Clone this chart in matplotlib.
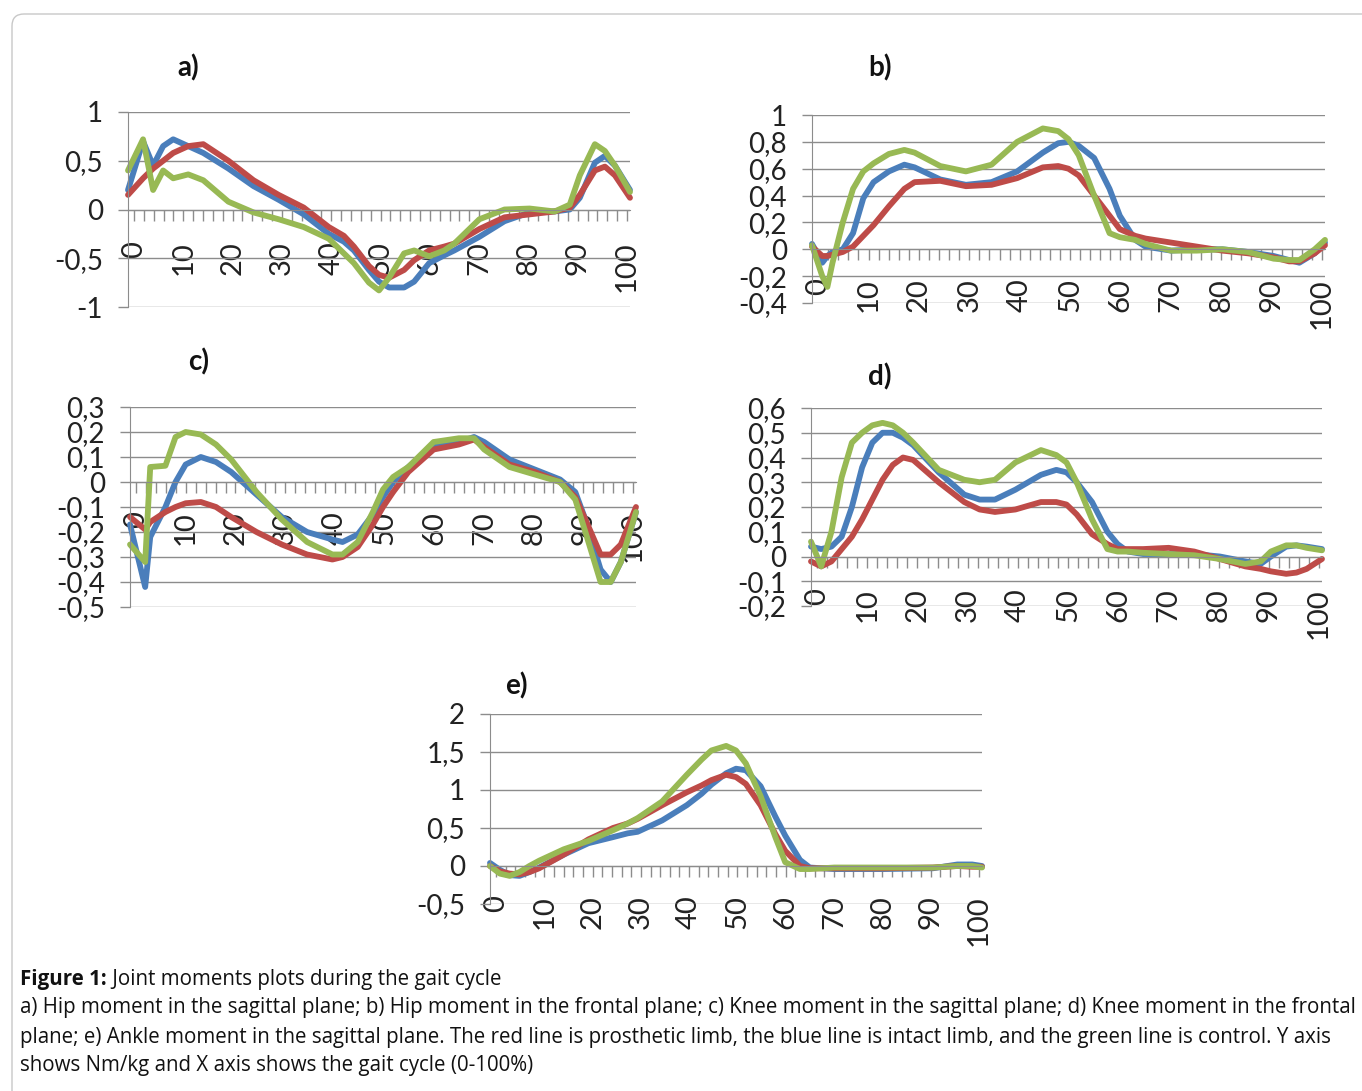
import matplotlib
matplotlib.use("Agg")
import matplotlib.pyplot as plt
from matplotlib.patches import FancyBboxPatch

W, H = 1362, 1091
DPI = 100

BLUE = "#4A7EBB"    # intact limb
RED = "#BE4B48"     # prosthetic limb
GREEN = "#98B954"   # control
GRID = "#8C8C8C"

# ---------------------------------------------------------------------------
# data: gait cycle (%) vs joint moment (Nm/kg)
# ---------------------------------------------------------------------------
# a) hip, sagittal
a_x = [0, 3, 5, 7, 9, 12, 15, 20, 25, 30, 35, 40, 43, 45, 48, 50, 52, 55, 57, 60,
       63, 65, 70, 75, 80, 85, 88, 90, 93, 95, 97, 100]
a_intact = [0.2, 0.7, 0.45, 0.65, 0.72, 0.65, 0.58, 0.42, 0.24, 0.1, -0.05, -0.25, -0.33, -0.42,
            -0.62, -0.74, -0.8, -0.8, -0.74, -0.55, -0.47, -0.42, -0.28, -0.12, -0.03, -0.02, 0.0,
            0.12, 0.48, 0.55, 0.45, 0.2]
a_prosth = [0.15, 0.32, 0.42, 0.5, 0.58, 0.65, 0.67, 0.5, 0.3, 0.15, 0.02, -0.18, -0.27, -0.38,
            -0.58, -0.67, -0.7, -0.62, -0.52, -0.42, -0.38, -0.35, -0.2, -0.08, -0.05, -0.02, 0.02,
            0.15, 0.4, 0.44, 0.35, 0.12]
a_control = [0.4, 0.72, 0.2, 0.4, 0.32, 0.36, 0.3, 0.08, -0.03, -0.1, -0.18, -0.3, -0.45, -0.55,
             -0.75, -0.83, -0.7, -0.45, -0.42, -0.48, -0.42, -0.35, -0.1, 0.0, 0.01, -0.02, 0.05,
             0.35, 0.67, 0.6, 0.45, 0.18]

# b) hip, frontal
b_x = [0, 2, 3, 4, 6, 8, 10, 12, 15, 18, 20, 25, 30, 35, 40, 45, 48, 50, 52, 55, 58, 60,
       63, 65, 70, 75, 80, 85, 90, 93, 95, 98, 100]
b_intact = [0.04, -0.1, -0.05, -0.02, 0.0, 0.12, 0.38, 0.5, 0.58, 0.63, 0.61, 0.52, 0.48, 0.5,
            0.58, 0.72, 0.79, 0.8, 0.77, 0.68, 0.45, 0.25, 0.07, 0.02, -0.01, 0.0, 0.0, -0.02,
            -0.05, -0.08, -0.1, -0.03, 0.05]
b_prosth = [0.02, -0.05, -0.05, -0.04, -0.02, 0.02, 0.1, 0.18, 0.32, 0.45, 0.5, 0.51, 0.47, 0.48,
            0.53, 0.61, 0.62, 0.6, 0.55, 0.4, 0.25, 0.15, 0.1, 0.08, 0.05, 0.02, -0.01, -0.03,
            -0.06, -0.09, -0.09, -0.03, 0.03]
b_control = [0.03, -0.2, -0.28, -0.1, 0.2, 0.45, 0.58, 0.64, 0.71, 0.74, 0.72, 0.62, 0.58, 0.63,
             0.8, 0.9, 0.88, 0.82, 0.7, 0.4, 0.12, 0.09, 0.07, 0.04, -0.01, -0.01, 0.0, -0.02,
             -0.07, -0.08, -0.08, 0.0, 0.07]

# c) knee, sagittal
c_x = [0, 3, 4, 7, 9, 11, 14, 17, 20, 25, 30, 35, 40, 42, 45, 48, 50, 52, 55, 60, 65, 68,
       70, 75, 80, 85, 88, 90, 93, 95, 97, 100]
c_intact = [-0.17, -0.42, -0.22, -0.1, 0.0, 0.07, 0.1, 0.08, 0.04, -0.05, -0.14, -0.2, -0.23,
            -0.24, -0.21, -0.13, -0.06, 0.0, 0.06, 0.14, 0.16, 0.18, 0.16, 0.09, 0.05, 0.01,
            -0.04, -0.15, -0.35, -0.4, -0.32, -0.12]
c_prosth = [-0.14, -0.19, -0.16, -0.12, -0.1, -0.085, -0.08, -0.1, -0.14, -0.2, -0.25, -0.29,
            -0.31, -0.3, -0.26, -0.17, -0.1, -0.04, 0.04, 0.13, 0.15, 0.17, 0.14, 0.07, 0.04,
            0.0, -0.06, -0.15, -0.29, -0.29, -0.25, -0.1]
c_control = [-0.25, -0.32, 0.06, 0.065, 0.18, 0.2, 0.19, 0.15, 0.09, -0.04, -0.15, -0.24, -0.29,
             -0.29, -0.24, -0.12, -0.03, 0.02, 0.06, 0.16, 0.175, 0.175, 0.13, 0.06, 0.03, 0.0,
             -0.07, -0.2, -0.4, -0.4, -0.32, -0.12]

# d) knee, frontal
d_x = [0, 2, 4, 6, 8, 10, 12, 14, 16, 18, 20, 25, 30, 33, 36, 40, 45, 48, 50, 52, 55, 58,
       60, 62, 65, 70, 75, 80, 85, 88, 90, 93, 95, 97, 100]
d_intact = [0.04, 0.03, 0.04, 0.08, 0.2, 0.36, 0.46, 0.5, 0.5, 0.48, 0.45, 0.34, 0.25, 0.23,
            0.23, 0.27, 0.33, 0.35, 0.34, 0.3, 0.22, 0.1, 0.05, 0.02, 0.01, 0.01, 0.01, 0.0,
            -0.02, -0.03, 0.0, 0.04, 0.045, 0.04, 0.03]
d_prosth = [-0.02, -0.04, -0.02, 0.03, 0.08, 0.15, 0.23, 0.31, 0.37, 0.4, 0.39, 0.3, 0.22, 0.19,
            0.18, 0.19, 0.22, 0.22, 0.21, 0.17, 0.09, 0.05, 0.03, 0.03, 0.03, 0.035, 0.02, -0.01,
            -0.04, -0.05, -0.06, -0.07, -0.065, -0.05, -0.01]
d_control = [0.06, -0.04, 0.1, 0.32, 0.46, 0.5, 0.53, 0.54, 0.53, 0.5, 0.46, 0.35, 0.31, 0.3,
             0.31, 0.38, 0.43, 0.41, 0.38, 0.3, 0.15, 0.03, 0.02, 0.02, 0.015, 0.01, 0.005, -0.01,
             -0.03, -0.02, 0.02, 0.045, 0.045, 0.035, 0.025]

# e) ankle, sagittal
e_x = [0, 2, 4, 6, 8, 10, 15, 20, 25, 28, 30, 35, 40, 43, 45, 48, 50, 52, 55, 58, 60, 63,
       65, 70, 80, 90, 95, 98, 100]
e_intact = [0.04, -0.05, -0.12, -0.13, -0.08, -0.02, 0.15, 0.3, 0.38, 0.43, 0.45, 0.6, 0.8,
            0.95, 1.07, 1.22, 1.28, 1.26, 1.05, 0.65, 0.4, 0.08, -0.02, -0.04, -0.04, -0.03,
            0.02, 0.02, 0.0]
e_prosth = [0.0, -0.07, -0.1, -0.11, -0.08, -0.03, 0.15, 0.35, 0.5, 0.56, 0.62, 0.8, 0.97, 1.06,
            1.13, 1.2, 1.17, 1.08, 0.8, 0.42, 0.2, 0.0, -0.03, -0.03, -0.03, -0.02, 0.0, -0.01,
            -0.01]
e_control = [0.0, -0.1, -0.13, -0.08, 0.0, 0.07, 0.22, 0.33, 0.47, 0.56, 0.63, 0.85, 1.2, 1.4,
             1.52, 1.58, 1.52, 1.35, 0.92, 0.38, 0.05, -0.04, -0.04, -0.02, -0.02, -0.02, 0.0,
             0.0, -0.02]

# axis ticks / labels
x_tick_values = list(range(0, 101, 2))

a_yticks = [-1, -0.5, 0, 0.5, 1]
a_ylabels = ["-1", "-0,5", "0", "0,5", "1"]
b_yticks = [-0.4, -0.2, 0, 0.2, 0.4, 0.6, 0.8, 1]
b_ylabels = ["-0,4", "-0,2", "0", "0,2", "0,4", "0,6", "0,8", "1"]
c_yticks = [-0.5, -0.4, -0.3, -0.2, -0.1, 0, 0.1, 0.2, 0.3]
c_ylabels = ["-0,5", "-0,4", "-0,3", "-0,2", "-0,1", "0", "0,1", "0,2", "0,3"]
d_yticks = [-0.2, -0.1, 0, 0.1, 0.2, 0.3, 0.4, 0.5, 0.6]
d_ylabels = ["-0,2", "-0,1", "0", "0,1", "0,2", "0,3", "0,4", "0,5", "0,6"]
e_yticks = [-0.5, 0, 0.5, 1, 1.5, 2]
e_ylabels = ["-0,5", "0", "0,5", "1", "1,5", "2"]

caption_bold = "Figure 1:"
caption_lines = [
    " Joint moments plots during the gait cycle",
    "a) Hip moment in the sagittal plane; b) Hip moment in the frontal plane; c) Knee moment in the sagittal plane; d) Knee moment in the frontal",
    "plane; e) Ankle moment in the sagittal plane. The red line is prosthetic limb, the blue line is intact limb, and the green line is control. Y axis",
    "shows Nm/kg and X axis shows the gait cycle (0-100%)",
]

# Excel puts the category ticks/labels slightly inside the line's range
LABEL_OFFSET = 1.2
LABEL_SCALE = 0.982

plt.rcParams["font.family"] = ["Lato", "DejaVu Sans"]

fig = plt.figure(figsize=(W / DPI, H / DPI), dpi=DPI)
fig.patch.set_facecolor("white")

# light rounded frame around the figure
frame = FancyBboxPatch((0.12, -0.5), 15.0, 10.77 + 0.5, boxstyle="round,pad=0,rounding_size=0.12",
                       transform=fig.dpi_scale_trans, facecolor="none", edgecolor="#C8C8C8",
                       linewidth=1.0)
fig.patches.append(frame)


def px_axes(left, right, top, bottom):
    return fig.add_axes([left / W, 1 - bottom / H, (right - left) / W, (bottom - top) / H])


def draw_panel(box, x, intact, prosth, control, yticks, ylabels, title, title_xy, label_pad):
    ax = px_axes(*box)
    # spine first: moving it resets the tick objects
    for side in ("top", "right"):
        ax.spines[side].set_visible(False)
    ax.spines["bottom"].set_position(("data", 0))
    ax.spines["bottom"].set_color(GRID)
    ax.spines["left"].set_color(GRID)

    for y, col in ((intact, BLUE), (prosth, RED), (control, GREEN)):
        ax.plot(x, y, color=col, linewidth=4.2, solid_joinstyle="round", solid_capstyle="round",
                clip_on=False)
    ax.set_xlim(0, 100)
    ax.set_ylim(yticks[0], yticks[-1])

    ax.set_yticks(yticks)
    ax.set_yticklabels(ylabels)
    ax.yaxis.grid(True, color=GRID, linewidth=1.0)
    ax.set_axisbelow(True)

    pos = [LABEL_OFFSET + LABEL_SCALE * v for v in x_tick_values]
    ax.set_xticks(pos)
    ax.set_xticklabels([str(v) if v % 10 == 0 else "" for v in x_tick_values])

    ax.tick_params(axis="y", direction="out", length=7, width=1, color=GRID,
                   labelsize=20, pad=11, labelcolor="#222222")
    ax.tick_params(axis="x", direction="out", length=8, width=1, color=GRID,
                   labelsize=21, pad=label_pad, labelcolor="#222222", labelrotation=90)

    fig.text(title_xy[0] / W, 1 - title_xy[1] / H, title, fontsize=20, fontweight="bold",
             ha="center", va="center", color="#111111")
    return ax


draw_panel((128, 630, 112, 307), a_x, a_intact, a_prosth, a_control,
           a_yticks, a_ylabels, "a)", (188, 68), 15)
draw_panel((812, 1325, 115, 303), b_x, b_intact, b_prosth, b_control,
           b_yticks, b_ylabels, "b)", (880, 68), 13)
draw_panel((130, 636, 407, 607), c_x, c_intact, c_prosth, c_control,
           c_yticks, c_ylabels, "c)", (199, 362), 13)
draw_panel((811, 1322, 408, 606), d_x, d_intact, d_prosth, d_control,
           d_yticks, d_ylabels, "d)", (880, 377), 15)
draw_panel((490, 982, 714, 904), e_x, e_intact, e_prosth, e_control,
           e_yticks, e_ylabels, "e)", (516, 686), 13)

# caption
cap_font = ["Open Sans", "DejaVu Sans"]
cap_size = 14.8
cap_y = [980, 1008, 1037, 1065]
t = fig.text(20 / W, 1 - cap_y[0] / H, caption_bold, fontsize=cap_size, fontweight="bold",
             family=cap_font, ha="left", va="center", color="#111111")
fig.canvas.draw()
bb = t.get_window_extent(renderer=fig.canvas.get_renderer())
fig.text(bb.x1 / W, 1 - cap_y[0] / H, caption_lines[0], fontsize=cap_size, family=cap_font,
         ha="left", va="center", color="#111111")
for line, yy in zip(caption_lines[1:], cap_y[1:]):
    fig.text(20 / W, 1 - yy / H, line, fontsize=cap_size, family=cap_font,
             ha="left", va="center", color="#111111")

fig.savefig("out.png", dpi=DPI, facecolor="white")
